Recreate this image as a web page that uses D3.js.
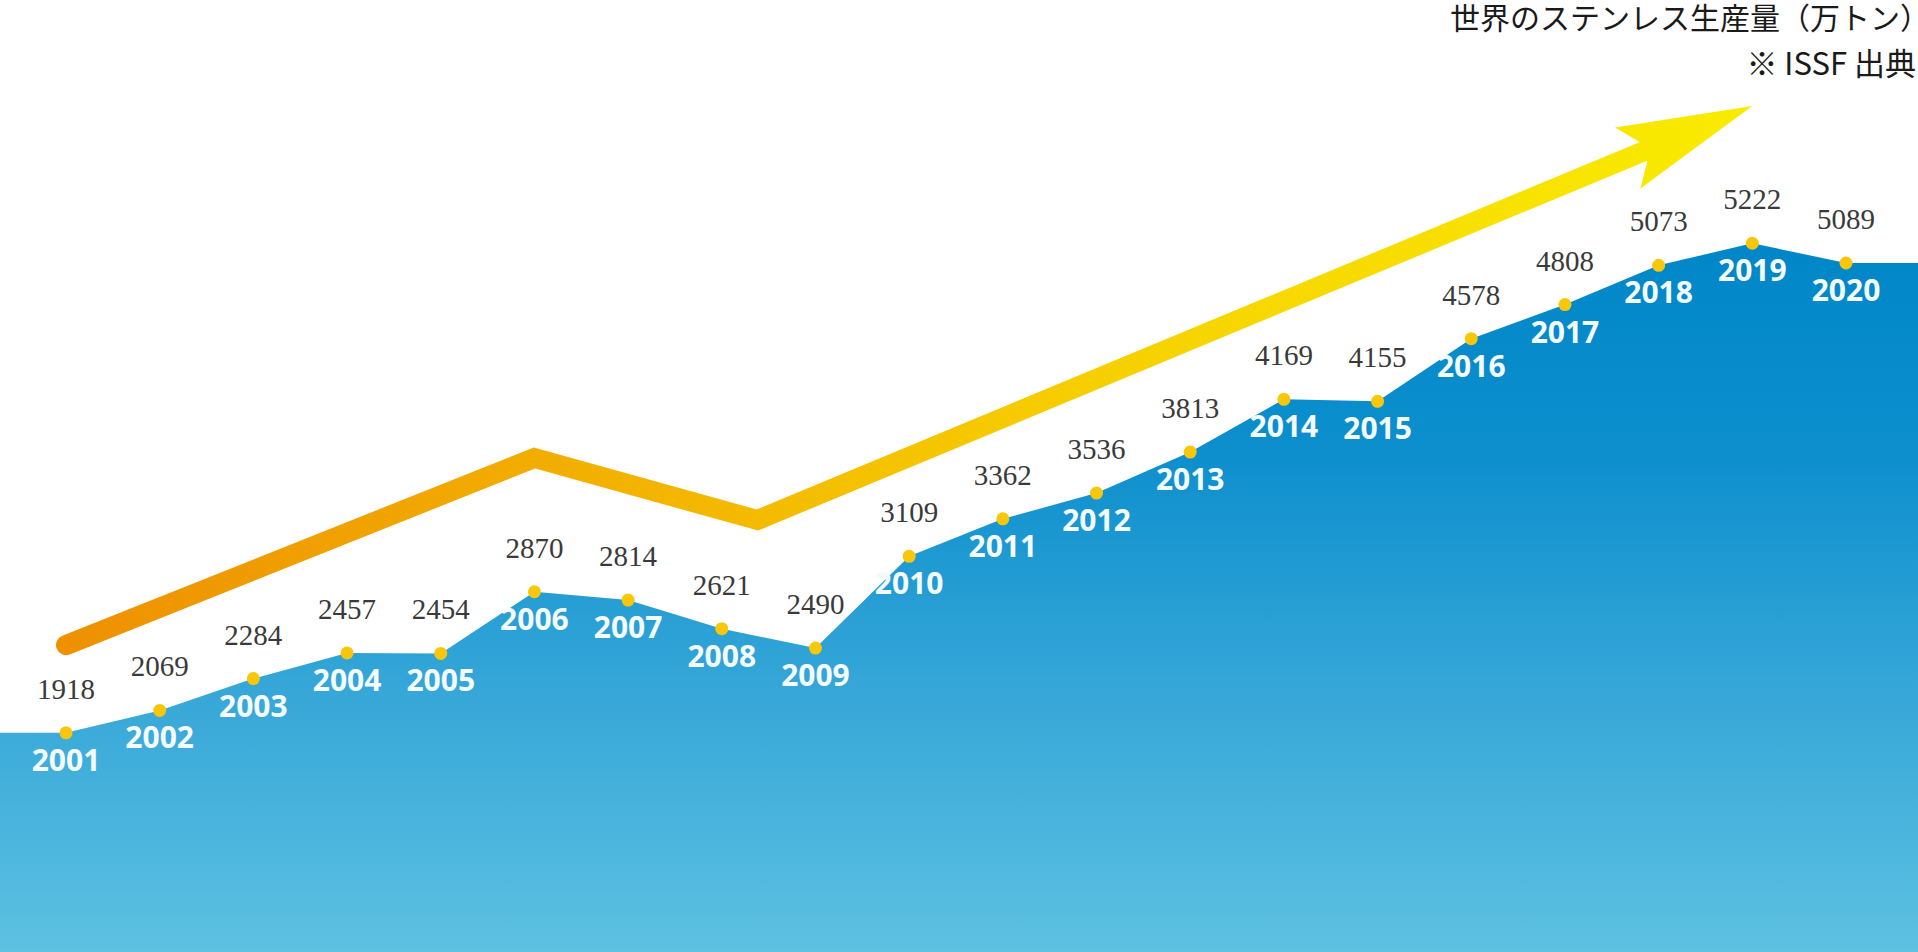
<!DOCTYPE html>
<html>
<head>
<meta charset="utf-8">
<script src="https://cdn.jsdelivr.net/npm/d3@7"></script>
<style>
  html, body { margin: 0; padding: 0; background: #ffffff; }
  svg { display: block; }
</style>
</head>
<body>
<svg id="chart" width="1918" height="952"></svg>
<script>
// ---- data ----
const years = [2001, 2002, 2003, 2004, 2005, 2006, 2007, 2008, 2009, 2010,
               2011, 2012, 2013, 2014, 2015, 2016, 2017, 2018, 2019, 2020];
const production = [1918, 2069, 2284, 2457, 2454, 2870, 2814, 2621, 2490, 3109,
                    3362, 3536, 3813, 4169, 4155, 4578, 4808, 5073, 5222, 5089];
// decorative trend arrow, in data space (year, value)
const trendYears = [2001, 2006, 2008.38, 2019];
const trendValues = [2510, 3773, 3354, 6148];
const titleText = "世界のステンレス生産量（万トン）";
const sourceText = "※ ISSF 出典";

// ---- layout ----
const W = 1918, H = 952;
const svg = d3.select("#chart");

const x = d3.scaleLinear().domain([2001, 2020]).range([66, 1846]);
const y = d3.scaleLinear().domain([0, 6000]).range([1017, 128]);

const data = years.map((yr, i) => ({ year: yr, v: production[i] }));

const defs = svg.append("defs");
const areaGrad = defs.append("linearGradient")
  .attr("id", "areaGrad").attr("gradientUnits", "userSpaceOnUse")
  .attr("x1", 0).attr("y1", 240).attr("x2", 0).attr("y2", H);
[[0, "#0086c8"], [0.3, "#0d8fcd"], [0.65, "#38a8d8"], [1, "#5dc1e1"]].forEach(([o, c]) =>
  areaGrad.append("stop").attr("offset", o).attr("stop-color", c));

const arrowGrad = defs.append("linearGradient")
  .attr("id", "arrowGrad").attr("gradientUnits", "userSpaceOnUse")
  .attr("x1", 60).attr("y1", 0).attr("x2", 1760).attr("y2", 0);
[[0, "#ee9000"], [0.28, "#f2ad00"], [0.41, "#f4bb00"], [0.67, "#f7d500"], [1, "#f9ec00"]].forEach(([o, c]) =>
  arrowGrad.append("stop").attr("offset", o).attr("stop-color", c));

// ---- area ----
const areaData = [{ year: x.invert(0), v: production[0] }, ...data,
                  { year: x.invert(W), v: production[production.length - 1] }];
const area = d3.area()
  .x(d => x(d.year))
  .y0(H)
  .y1(d => y(d.v));
svg.append("path").datum(areaData)
  .attr("d", area)
  .attr("fill", "url(#areaGrad)");

// ---- trend arrow ----
const tp = trendYears.map((yr, i) => [x(yr), y(trendValues[i])]);
const tip = tp[tp.length - 1];
const prev = tp[tp.length - 2];
const len = Math.hypot(tip[0] - prev[0], tip[1] - prev[1]);
const u = [(tip[0] - prev[0]) / len, (tip[1] - prev[1]) / len];
const n = [u[1], -u[0]]; // perpendicular
const at = (back, side) => [tip[0] - u[0] * back + n[0] * side, tip[1] - u[1] * back + n[1] * side];

const shaftPts = tp.slice(0, -1).concat([at(118, 0)]);
svg.append("path")
  .attr("d", d3.line()(shaftPts))
  .attr("fill", "none")
  .attr("stroke", "url(#arrowGrad)")
  .attr("stroke-width", 20)
  .attr("stroke-linecap", "round")
  .attr("stroke-linejoin", "miter");
const head = [tip, at(135, -33), at(118, -10.5), at(118, 10.5), at(135, 33)];
svg.append("path")
  .attr("d", d3.line()(head) + "Z")
  .attr("fill", "url(#arrowGrad)");

// ---- dots ----
svg.append("g").selectAll("circle").data(data).join("circle")
  .attr("cx", d => x(d.year))
  .attr("cy", d => y(d.v))
  .attr("r", 6.5)
  .attr("fill", "#f8c70c");

// ---- value labels ----
svg.append("g").selectAll("text").data(data).join("text")
  .attr("x", d => x(d.year))
  .attr("y", d => y(d.v) - 34)
  .attr("text-anchor", "middle")
  .attr("font-family", "'Liberation Serif', 'DejaVu Serif', serif")
  .attr("font-size", 29)
  .attr("fill", "#3a3a3a")
  .text(d => d.v);

// ---- year labels ----
svg.append("g").selectAll("text").data(data).join("text")
  .attr("x", d => x(d.year))
  .attr("y", d => y(d.v) + 38)
  .attr("text-anchor", "middle")
  .attr("font-family", "'Open Sans', 'Noto Sans', sans-serif")
  .attr("font-weight", 700)
  .attr("font-size", 30)
  .attr("fill", "#f4fbff")
  .text(d => d.year);

// ---- title ----
svg.append("text")
  .attr("x", 1930).attr("y", 29)
  .attr("text-anchor", "end")
  .attr("font-family", "'Noto Sans CJK JP', sans-serif")
  .attr("font-size", 30)
  .attr("fill", "#1a1a1a")
  .text(titleText);
svg.append("text")
  .attr("x", 1916).attr("y", 75)
  .attr("text-anchor", "end")
  .attr("font-family", "'Noto Sans CJK JP', sans-serif")
  .attr("font-size", 31)
  .attr("fill", "#1a1a1a")
  .text(sourceText);
</script>
</body>
</html>
